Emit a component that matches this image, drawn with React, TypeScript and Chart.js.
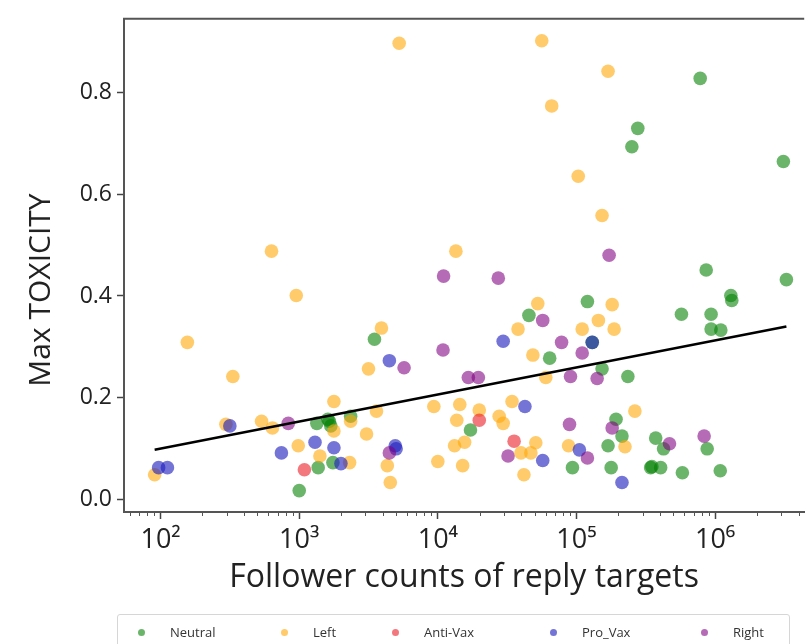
import React, { useEffect, useRef } from "react";
import { Chart, registerables } from "chart.js";
Chart.register(...registerables);

// ---- data ----
const neutralX = [781000, 277000, 251000, 3110000, 863000, 3270000, 1300000, 1320000, 572000, 936000, 936000, 1100000, 120000, 45400, 64100, 3490, 1340, 1610, 1650, 1690, 2350, 1370, 1750, 1000, 17200, 93600, 153000, 235000, 193000, 213000, 169000, 178000, 373000, 425000, 343000, 350000, 405000, 581000, 877000, 1090000, 130000];
const neutralY = [0.827, 0.729, 0.693, 0.664, 0.451, 0.432, 0.401, 0.391, 0.364, 0.364, 0.335, 0.333, 0.389, 0.362, 0.278, 0.315, 0.150, 0.158, 0.154, 0.145, 0.164, 0.063, 0.073, 0.018, 0.137, 0.063, 0.257, 0.242, 0.158, 0.125, 0.106, 0.063, 0.121, 0.100, 0.063, 0.065, 0.063, 0.053, 0.100, 0.057, 0.309];

const leftX = [5260, 56200, 169000, 66300, 103000, 631, 952, 13500, 153000, 156, 332, 1780, 296, 535, 641, 1780, 2350, 90.6, 984, 1410, 2310, 3920, 3160, 3610, 3060, 9360, 14400, 13700, 4320, 4540, 10000, 15100, 13200, 15600, 19900, 34300, 27700, 29600, 39800, 46900, 50900, 41800, 87700, 37900, 48500, 60100, 52600, 181000, 144000, 110000, 187000, 264000, 224000];
const leftY = [0.896, 0.901, 0.841, 0.773, 0.635, 0.488, 0.401, 0.488, 0.558, 0.309, 0.242, 0.193, 0.148, 0.154, 0.141, 0.135, 0.154, 0.049, 0.106, 0.086, 0.073, 0.337, 0.257, 0.174, 0.129, 0.183, 0.187, 0.156, 0.067, 0.034, 0.075, 0.067, 0.106, 0.113, 0.176, 0.193, 0.164, 0.150, 0.092, 0.092, 0.112, 0.049, 0.106, 0.335, 0.284, 0.240, 0.385, 0.383, 0.352, 0.335, 0.335, 0.174, 0.104];

const antiX = [1090, 19900, 35500];
const antiY = [0.059, 0.156, 0.115];

const proX = [96.8, 112, 316, 744, 1300, 1780, 2000, 4470, 4930, 5000, 29600, 42500, 57100, 130000, 105000, 213000];
const proY = [0.063, 0.063, 0.145, 0.092, 0.113, 0.102, 0.071, 0.273, 0.106, 0.100, 0.311, 0.183, 0.077, 0.309, 0.098, 0.034];

const rightX = [172000, 11000, 27300, 10900, 5710, 834, 4470, 57100, 78100, 16600, 19600, 90600, 110000, 141000, 89100, 181000, 32100, 120000, 469000, 834000];
const rightY = [0.480, 0.439, 0.435, 0.294, 0.259, 0.150, 0.092, 0.352, 0.309, 0.240, 0.240, 0.242, 0.288, 0.238, 0.148, 0.141, 0.086, 0.082, 0.110, 0.125];

const regX = [90.6, 3270000];
const regY = [0.098, 0.340];

const seriesNames = ["Neutral", "Left", "Anti-Vax", "Pro_Vax", "Right"];
const yTickValues = [0, 0.2, 0.4, 0.6, 0.8];
const xMajorTicks = [100, 1000, 10000, 100000, 1000000];
const xTickLabels = ["10²", "10³", "10⁴", "10⁵", "10⁶"];
const xTitle = "Follower counts of reply targets";
const yTitle = "Max TOXICITY";

// ---- styles ----
const colors = [
  "rgba(0,128,0,0.58)",
  "rgba(255,165,0,0.58)",
  "rgba(235,30,40,0.6)",
  "rgba(30,30,190,0.62)",
  "rgba(128,0,128,0.58)",
];
const legendDotX = [142, 285, 396, 554, 705];
const FONT = "'Open Sans', 'Noto Sans', sans-serif";

const X_MIN = Math.pow(10, 1.736);
const X_MAX = Math.pow(10, 6.643);

function buildXTicks() {
  const out: number[] = [];
  for (let e = 1; e <= 6; e++) {
    for (let m = 1; m <= 9; m++) {
      const v = m * Math.pow(10, e);
      if (v >= X_MIN && v <= X_MAX) out.push(v);
    }
  }
  return out;
}
const isMajor = (v: number) => {
  const l = Math.log10(v);
  return Math.abs(l - Math.round(l)) < 1e-9;
};

const zip = (xs: number[], ys: number[]) => xs.map((x, i) => ({ x, y: ys[i] }));

const framePlugin = {
  id: "frame",
  afterDraw(chart: any) {
    const { ctx, chartArea } = chart;
    const xs = chart.scales.x;
    ctx.save();
    ctx.strokeStyle = "#555";
    ctx.lineWidth = 2;
    ctx.beginPath();
    ctx.moveTo(chartArea.left - 1, chartArea.top);
    ctx.lineTo(chartArea.right, chartArea.top);
    ctx.stroke();
    // minor ticks
    ctx.lineWidth = 1;
    ctx.strokeStyle = "#555";
    buildXTicks().forEach((v) => {
      if (isMajor(v)) return;
      const px = Math.round(xs.getPixelForValue(v)) + 0.5;
      ctx.beginPath();
      ctx.moveTo(px, chartArea.bottom);
      ctx.lineTo(px, chartArea.bottom + 4);
      ctx.stroke();
    });
    // y axis title
    ctx.translate(41, 290);
    ctx.rotate(-Math.PI / 2);
    ctx.fillStyle = "#222";
    ctx.font = `30px ${FONT}`;
    ctx.textAlign = "center";
    ctx.textBaseline = "middle";
    ctx.fillText(yTitle, 0, 0);
    ctx.restore();
  },
};

export default function App() {
  const ref = useRef<HTMLCanvasElement>(null);
  useEffect(() => {
    document.body.style.margin = "0";
    const xs = [neutralX, leftX, antiX, proX, rightX];
    const ys = [neutralY, leftY, antiY, proY, rightY];
    const datasets: any[] = seriesNames.map((name, i) => ({
      type: "scatter",
      label: name,
      data: zip(xs[i], ys[i]),
      backgroundColor: colors[i],
      borderWidth: 0,
      pointRadius: 6.8,
      order: 5 - i,
    }));
    datasets.push({
      type: "line",
      label: "fit",
      data: zip(regX, regY),
      borderColor: "#000",
      borderWidth: 2.5,
      pointRadius: 0,
      order: 0,
    });
    const chart = new Chart(ref.current!, {
      type: "scatter",
      data: { datasets },
      options: {
        animation: false,
        responsive: false,
        events: [],
        layout: { padding: { top: 13, right: 0, left: 0, bottom: 0 } },
        plugins: { legend: { display: false }, tooltip: { enabled: false } },
        scales: {
          x: {
            type: "logarithmic",
            min: X_MIN,
            max: X_MAX,
            afterBuildTicks: (s: any) => {
              s.ticks = buildXTicks().map((v) => ({ value: v, major: isMajor(v) }));
            },
            afterFit: (s: any) => {
              s.height = 132;
            },
            ticks: {
              autoSkip: false,
              maxRotation: 0,
              padding: 5,
              color: "#222",
              font: { size: 27, family: FONT },
              callback: (v: any) => {
                const idx = xMajorTicks.findIndex((m) => Math.abs(m - v) / m < 1e-6);
                return idx >= 0 ? xTickLabels[idx] : "";
              },
            },
            grid: {
              drawOnChartArea: false,
              drawTicks: true,
              tickLength: 7,
              tickWidth: 1.5,
              tickColor: (c: any) => (c.tick && isMajor(c.tick.value) ? "#444" : "rgba(0,0,0,0)"),
            },
            border: { display: true, color: "#555", width: 2 },
            title: {
              display: true,
              text: xTitle,
              color: "#222",
              font: { size: 32, family: FONT },
              padding: { top: 0, bottom: 47 },
            },
          },
          y: {
            type: "linear",
            min: -0.024,
            max: 0.944,
            afterBuildTicks: (s: any) => {
              s.ticks = yTickValues.map((v) => ({ value: v }));
            },
            afterFit: (s: any) => {
              s.width = 124;
            },
            ticks: {
              padding: 5,
              color: "#222",
              font: { size: 23, family: FONT },
              callback: (v: any) => Number(v).toFixed(1),
            },
            grid: {
              drawOnChartArea: false,
              drawTicks: true,
              tickLength: 7,
              tickWidth: 1.5,
              tickColor: "#444",
            },
            border: { display: true, color: "#555", width: 2 },
            title: { display: false },
          },
        },
      },
      plugins: [framePlugin],
    });
    return () => chart.destroy();
  }, []);

  return (
    <div style={{ position: "relative", width: 811, height: 644, overflow: "hidden", background: "#fff" }}>
      <canvas ref={ref} width={811} height={644} style={{ position: "absolute", left: 0, top: 0 }} />
      <div
        style={{
          position: "absolute",
          left: 117,
          top: 614,
          width: 673,
          height: 40,
          border: "1px solid #d6d6d6",
          borderRadius: 3,
          boxSizing: "border-box",
        }}
      />
      {seriesNames.map((name, i) => (
        <div
          key={name}
          style={{
            position: "absolute",
            left: legendDotX[i] - 4,
            top: 623,
            height: 18,
            display: "flex",
            alignItems: "center",
            fontFamily: FONT,
            fontSize: 13,
            color: "#333",
          }}
        >
          <span
            style={{
              display: "inline-block",
              width: 7,
              height: 7,
              borderRadius: "50%",
              background: colors[i],
              marginRight: 25,
            }}
          />
          <span>{name}</span>
        </div>
      ))}
    </div>
  );
}
